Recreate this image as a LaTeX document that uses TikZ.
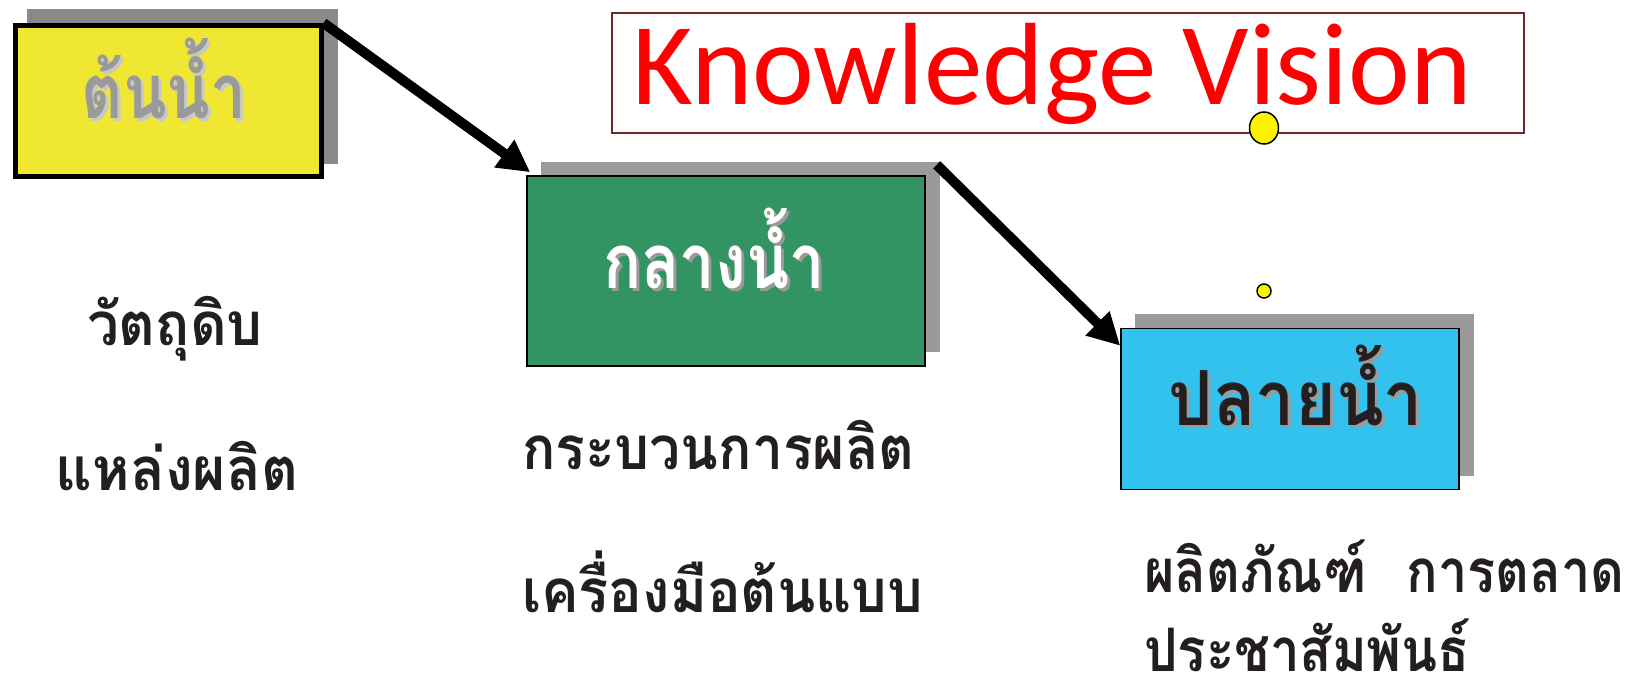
\documentclass[tikz,border=0pt]{standalone}
\usepackage{fontspec}
\newfontfamily\thaifont[Script=Thai]{Loma}
\newfontfamily\latinfont{Carlito}
\usetikzlibrary{arrows.meta,calc,shapes.geometric}
\definecolor{tyellow}{HTML}{F0E733}
\definecolor{tgreen}{HTML}{329463}
\definecolor{tblue}{HTML}{33C1EE}
\definecolor{shadegray}{HTML}{9A9A9A}
\definecolor{shadegraydark}{HTML}{8A8A8A}
\definecolor{ink}{HTML}{231F20}
\definecolor{titlered}{HTML}{FF0000}
\definecolor{titleframe}{HTML}{6B2A2A}
\definecolor{lightshade}{HTML}{C8C8C8}
\begin{document}
\begin{tikzpicture}[x=1pt,y=-1pt,
  shadebox/.style={rectangle, inner sep=0, draw=none, fill=#1},
  stagebox/.style={rectangle, inner sep=0, draw=black, line width=1.5pt, fill=#1},
  bodytext/.style={font=\thaifont\bfseries\fontsize{60}{72}\selectfont, text=ink, inner sep=0},
  stagelabel/.style={font=\thaifont\bfseries\fontsize{76}{90}\selectfont, inner sep=0, anchor=base},
  flow/.style={line width=10pt, draw=black, -{Triangle[length=32pt,width=32pt]}},
  dot/.style={ellipse, draw=black, line width=1.5pt, fill=yellow, inner sep=0}
]
\useasboundingbox (0,0) rectangle (1646,692);

% shadows
\node[shadebox=shadegraydark, minimum width=311pt, minimum height=155pt] (tonS) at (182,87) {};
\node[shadebox=shadegray, minimum width=399pt, minimum height=190pt] (klangS) at (740,257) {};
\node[shadebox=shadegray, minimum width=339pt, minimum height=162pt] (plaiS) at (1304,395) {};

% boxes
\node[stagebox=tyellow, line width=5pt, minimum width=306pt, minimum height=151pt] (ton) at (168,101) {};
\node[stagebox=tgreen, minimum width=398pt, minimum height=190pt] (klang) at (726,271) {};
\node[stagebox=tblue, minimum width=338pt, minimum height=161pt] (plai) at (1290,409) {};

% box labels (with text shadow)
\node[stagelabel, text=lightshade] (tonLS) at (167,122) {\scalebox{0.84}[1]{ต้นน้ำ}};
\node[stagelabel, text=shadegray] (tonL) at (164,119) {\scalebox{0.84}[1]{ต้นน้ำ}};
\node[stagelabel, text=shadegray] (klangLS) at (717,292) {\scalebox{0.83}[1]{กลางน้ำ}};
\node[stagelabel, text=white] (klangL) at (714,289) {\scalebox{0.83}[1]{กลางน้ำ}};
\node[stagelabel, text=shadegray] (plaiLS) at (1299,428) {\scalebox{0.92}[1]{ปลายน้ำ}};
\node[stagelabel, text=ink] (plaiL) at (1296,425) {\scalebox{0.92}[1]{ปลายน้ำ}};

% title
\node[rectangle, draw=titleframe, line width=2pt, minimum width=912pt, minimum height=120pt, inner sep=0] (title) at (1068,73) {};
\node[font=\latinfont\fontsize{117}{130}\selectfont, text=titlered, inner sep=0, anchor=base west] (titleT) at (632,105) {Knowledge Vision};
\node[dot, minimum width=29pt, minimum height=32pt] (dotA) at (1264,128) {};
\node[dot, minimum width=14pt, minimum height=14pt] (dotB) at (1264,291) {};

% arrows
\draw[flow] (ton.north east) -- ($(klang.north west)+(4,-3)$);
\draw[flow] ($(klangS.north east)+(-3,3)$) -- ($(plai.north west)+(0,18)$);

% descriptions
\node[bodytext, anchor=base] (t1) at (175,346) {\scalebox{0.945}[1]{วัตถุดิบ}};
\node[bodytext, anchor=base] (t2) at (177,490) {\scalebox{0.95}[1]{แหล่งผลิต}};
\node[bodytext, anchor=base west] (t3) at (522,469) {\scalebox{0.92}[1]{กระบวนการผลิต}};
\node[bodytext, anchor=base west] (t4) at (522,612) {\scalebox{0.935}[1]{เครื่องมือต้นแบบ}};
\node[bodytext, anchor=base west] (t5) at (1144,592) {\scalebox{0.87}[1]{ผลิตภัณฑ์}\hspace{40pt}\scalebox{0.87}[1]{การตลาด}};
\node[bodytext, anchor=base west] (t6) at (1144,671) {\scalebox{0.88}[1]{ประชาสัมพันธ์}};
\end{tikzpicture}
\end{document}
